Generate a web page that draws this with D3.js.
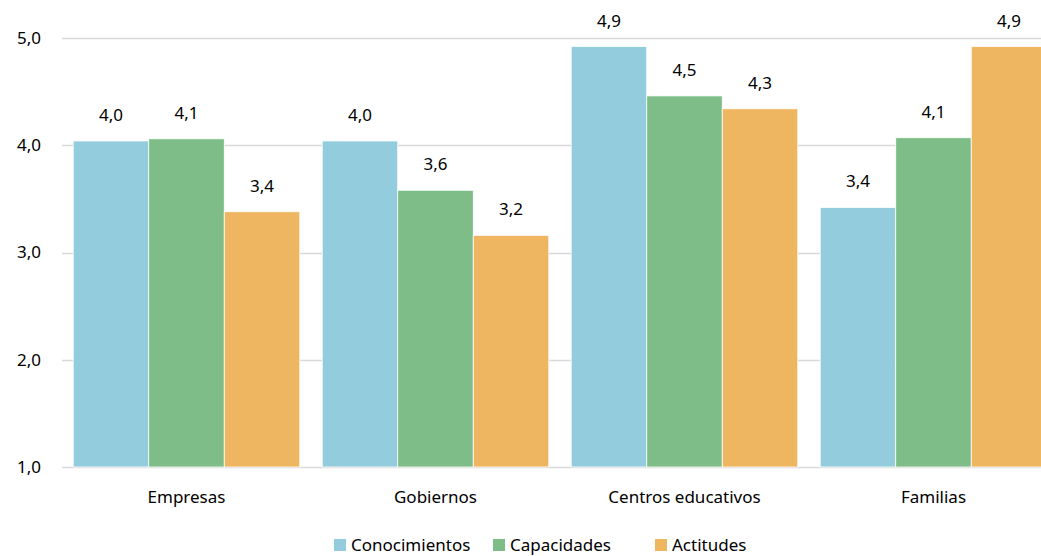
<!DOCTYPE html>
<html>
<head>
<meta charset="utf-8">
<script src="https://cdn.jsdelivr.net/npm/d3@7"></script>
<style>
  body { margin: 0; background: #fff; }
  svg { display: block; font-family: "Noto Sans", "Open Sans", sans-serif; }
</style>
</head>
<body>
<svg id="chart" width="1041" height="556"></svg>
<script>
const categories = ['Empresas', 'Gobiernos', 'Centros educativos', 'Familias'];
const seriesNames = ['Conocimientos', 'Capacidades', 'Actitudes'];
const conocimientos = [4.04, 4.04, 4.92, 3.42];
const capacidades = [4.06, 3.58, 4.46, 4.07];
const actitudes = [3.38, 3.16, 4.34, 4.92];
const yTicks = [1, 2, 3, 4, 5];
const colors = ['#93CDDD', '#7EBD88', '#EFB662'];

const seriesValues = [conocimientos, capacidades, actitudes];
const rows = categories.map((c, i) => ({
  cat: c,
  vals: seriesNames.map((s, j) => ({ key: s, value: seriesValues[j][i] })),
}));

const svg = d3.select('#chart');
const margin = { top: 38, left: 62, bottom: 89 };
const height = 556;
const plotRight = 1058;

const x = d3.scaleBand()
  .domain(categories)
  .range([margin.left, plotRight])
  .paddingInner(0.09)
  .paddingOuter(0.045);

const xSub = d3.scaleBand()
  .domain(seriesNames)
  .range([0, x.bandwidth()]);

const y = d3.scaleLinear()
  .domain([1, 5])
  .range([height - margin.bottom, margin.top]);

const color = d3.scaleOrdinal(seriesNames, colors);
const fmt = (v) => d3.format('.1f')(v).replace('.', ',');

// gridlines
svg.append('g')
  .selectAll('line')
  .data(yTicks)
  .join('line')
  .attr('x1', margin.left)
  .attr('x2', 1041)
  .attr('y1', (d) => Math.round(y(d)) + 0.5)
  .attr('y2', (d) => Math.round(y(d)) + 0.5)
  .attr('stroke', '#d9d9d9')
  .attr('stroke-width', 1.5);

// y tick labels
svg.append('g')
  .selectAll('text')
  .data(yTicks)
  .join('text')
  .attr('x', 41)
  .attr('y', (d) => y(d))
  .attr('dy', '0.35em')
  .attr('text-anchor', 'end')
  .attr('font-size', 17)
  .attr('fill', '#000')
  .text((d) => fmt(d));

// bars
const groups = svg.append('g')
  .selectAll('g')
  .data(rows)
  .join('g')
  .attr('transform', (d) => `translate(${x(d.cat)},0)`);

groups.selectAll('rect')
  .data((d) => d.vals)
  .join('rect')
  .attr('x', (d) => xSub(d.key))
  .attr('width', xSub.bandwidth())
  .attr('y', (d) => y(d.value))
  .attr('height', (d) => y(1) - y(d.value))
  .attr('fill', (d) => color(d.key))
  .attr('stroke', '#fff')
  .attr('stroke-width', 0.8);

groups.selectAll('text')
  .data((d) => d.vals)
  .join('text')
  .attr('x', (d) => xSub(d.key) + xSub.bandwidth() / 2)
  .attr('y', (d) => y(d.value) - 20)
  .attr('text-anchor', 'middle')
  .attr('font-size', 17)
  .attr('fill', '#000')
  .text((d) => fmt(d.value));

// category labels
svg.append('g')
  .selectAll('text')
  .data(categories)
  .join('text')
  .attr('x', (d) => x(d) + x.bandwidth() / 2)
  .attr('y', 503)
  .attr('text-anchor', 'middle')
  .attr('font-size', 17)
  .attr('fill', '#000')
  .text((d) => d);

// legend
const legendItems = [
  { name: 'Conocimientos', x: 334 },
  { name: 'Capacidades', x: 493 },
  { name: 'Actitudes', x: 655 },
];
const legend = svg.append('g');
legendItems.forEach((it) => {
  legend.append('rect')
    .attr('x', it.x)
    .attr('y', 539)
    .attr('width', 12)
    .attr('height', 12)
    .attr('fill', color(it.name));
  legend.append('text')
    .attr('x', it.x + 17)
    .attr('y', 551)
    .attr('font-size', 17)
    .attr('fill', '#000')
    .text(it.name);
});
</script>
</body>
</html>
